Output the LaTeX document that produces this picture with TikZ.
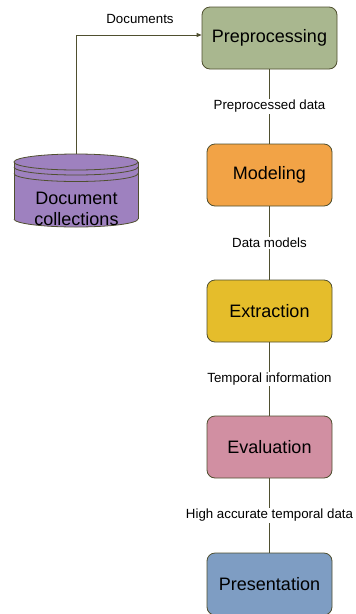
\documentclass[tikz,border=0pt]{standalone}
\usepackage{fontspec}
\setmainfont{Liberation Sans}
\usetikzlibrary{arrows.meta}
\definecolor{edgec}{HTML}{4F4F2F}
\definecolor{cpre}{HTML}{A9B78F}
\definecolor{cmod}{HTML}{F2A346}
\definecolor{cext}{HTML}{E5BD2B}
\definecolor{ceva}{HTML}{D18FA2}
\definecolor{cpres}{HTML}{7E9DC3}
\definecolor{ccyl}{HTML}{9E81BF}
\begin{document}
\begin{tikzpicture}[x=1pt,y=-1pt,
  stepbox/.style={draw=edgec, line width=0.8pt, rounded corners=8pt, minimum width=125pt, minimum height=62pt, inner sep=0pt, font=\fontsize{18}{21}\selectfont},
  lbl/.style={fill=white, inner sep=1pt, font=\fontsize{13.3}{15}\selectfont},
  conn/.style={draw=edgec, line width=0.8pt}]
\useasboundingbox (0,0) rectangle (356,614);
\node[stepbox, fill=cpre, minimum width=135pt] (pre) at (269.5,38) {Preprocessing};
\node[stepbox, fill=cmod] (mod) at (269.5,175) {Modeling};
\node[stepbox, fill=cext] (ext) at (269.5,311) {Extraction};
\node[stepbox, fill=ceva] (eva) at (269.5,447) {Evaluation};
\node[stepbox, fill=cpres] (prs) at (269.5,584) {Presentation};
% cylinder
\fill[ccyl] (14,162) rectangle (138,219);
\fill[ccyl] (76,219) ellipse[x radius=62, y radius=8];
\draw[edgec, line width=0.8pt] (14,162) -- (14,219);
\draw[edgec, line width=0.8pt] (138,162) -- (138,219);
\draw[edgec, line width=0.8pt] (14,219) arc[start angle=180, end angle=360, x radius=62, y radius=-8];
\draw[edgec, line width=0.8pt, fill=ccyl] (76,162) ellipse[x radius=62, y radius=8];
\draw[edgec, line width=0.8pt] (14,167) arc[start angle=180, end angle=360, x radius=62, y radius=-8];
\draw[edgec, line width=0.8pt] (14,173.5) arc[start angle=180, end angle=360, x radius=62, y radius=-8];
\coordinate (dctop) at (76.5,154);
\node[align=center, inner sep=0pt, font=\fontsize{18}{21.5}\selectfont] (dc) at (76.5,209) {Document\\collections};
% connectors
\draw[conn, -{Triangle[length=5pt,width=4pt]}] (dctop) |- (pre.west |- 0,35);
\node[font=\fontsize{13.3}{15}\selectfont] (ldoc) at (140,19) {Documents};
\draw[conn] (pre) -- (mod) node[lbl, pos=0.5] (l1) {Preprocessed data};
\draw[conn] (mod) -- (ext) node[lbl, pos=0.5] (l2) {Data models};
\draw[conn] (ext) -- (eva) node[lbl, pos=0.5] (l3) {Temporal information};
\draw[conn] (eva) -- (prs) node[lbl, pos=0.5] (l4) {High accurate temporal data};
\end{tikzpicture}
\end{document}
